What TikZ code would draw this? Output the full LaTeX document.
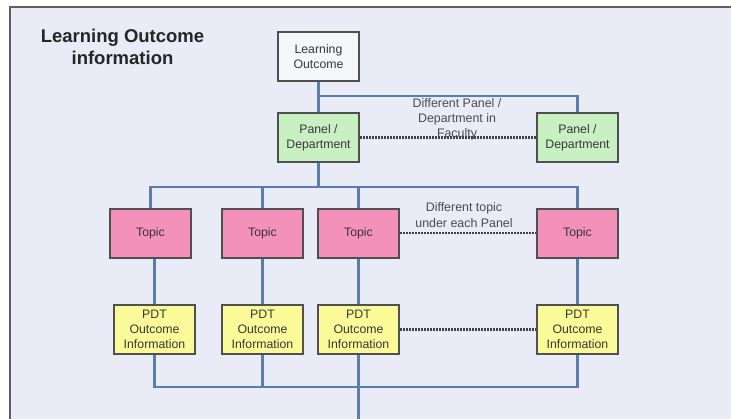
\documentclass[tikz,border=0pt]{standalone}
\usepackage{fontspec}
\setmainfont{Liberation Sans}
\begin{document}
\begin{tikzpicture}[x=1pt,y=-1pt,
  box/.style={draw=boxgray,line width=2pt,minimum width=81pt,minimum height=49pt,
    inner sep=1pt,align=center,font=\fontsize{12.3}{14.8}\selectfont,text=txtgray},
  lobox/.style={box,fill=lofill},
  panelbox/.style={box,fill=greenfill},
  topicbox/.style={box,fill=pinkfill},
  pdtbox/.style={box,fill=yellowfill},
  conn/.style={draw=lineblue,line width=2.1pt},
  dotline/.style={draw=dotgray,line width=2.4pt,dash pattern=on 1.5pt off 1.5pt},
  lbl/.style={align=center,font=\fontsize{12.4}{15.2}\selectfont,text=lblgray,inner sep=0pt},
]
\definecolor{bgcol}{HTML}{E9ECF6}
\definecolor{framegray}{HTML}{606060}
\definecolor{boxgray}{HTML}{505050}
\definecolor{txtgray}{HTML}{383838}
\definecolor{lblgray}{HTML}{4A4A52}
\definecolor{lofill}{HTML}{F5F6FA}
\definecolor{greenfill}{HTML}{C9F0C3}
\definecolor{pinkfill}{HTML}{F391BA}
\definecolor{yellowfill}{HTML}{FAFA98}
\definecolor{lineblue}{HTML}{5A7DAE}
\definecolor{dotgray}{HTML}{404048}
\useasboundingbox (0,0) rectangle (731,418);
\fill[white] (0,0) rectangle (740,430);
\fill[bgcol] (10,7) rectangle (740,430);
\draw[framegray,line width=2.2pt] (10,430) -- (10,7) -- (740,7);

\node[align=center,font=\fontsize{18.5}{22}\bfseries\selectfont,text=black!85,inner sep=0pt] (title) at (122.5,46.5) {Learning Outcome\\information};

\node[lobox] (LO) at (318.5,56.5) {Learning\\Outcome};
\node[panelbox] (P1) at (318.5,137.5) {Panel /\\Department};
\node[panelbox] (P2) at (577.5,137.5) {Panel /\\Department};
\node[topicbox] (T1) at (150.5,233) {Topic};
\node[topicbox] (T2) at (262.5,233) {Topic};
\node[topicbox] (T3) at (358.5,233) {Topic};
\node[topicbox] (T4) at (577.5,233) {Topic};
\node[pdtbox] (D1) at (154.5,329.5) {PDT\\Outcome\\Information};
\node[pdtbox] (D2) at (262.5,329.5) {PDT\\Outcome\\Information};
\node[pdtbox] (D3) at (358.5,329.5) {PDT\\Outcome\\Information};
\node[pdtbox] (D4) at (577.5,329.5) {PDT\\Outcome\\Information};

\coordinate (j1) at (318.5,96);
\coordinate (j2) at (577.5,96);
\coordinate (b1) at (150.5,187);
\coordinate (b4) at (577.5,187);
\coordinate (c1) at (154.5,387);
\coordinate (c4) at (577.5,387);
\coordinate (out) at (358.5,430);

\draw[conn] (LO.south) -- (P1.north);
\draw[conn] (j1) -- (j2) -- (P2.north);
\draw[conn] (P1.south) -- (P1.south |- b1);
\draw[conn] (T1.north) -- (b1) -- (b4) -- (T4.north);
\draw[conn] (T2.north) -- (T2.north |- b1);
\draw[conn] (T3.north) -- (T3.north |- b1);
\draw[conn] (T1.south -| D1.north) -- (D1.north);
\draw[conn] (T2.south) -- (D2.north);
\draw[conn] (T3.south) -- (D3.north);
\draw[conn] (T4.south) -- (D4.north);
\draw[conn] (D1.south) -- (c1) -- (c4) -- (D4.south);
\draw[conn] (D2.south) -- (D2.south |- c1);
\draw[conn] (D3.south) -- (out);

\node[lbl] (l1) at (457,119) {Different Panel /\\Department in\\Faculty};
\node[lbl] (l2) at (464,215) {Different topic\\under each Panel};

\draw[dotline] (P1.east) -- (P2.west);
\draw[dotline] (T3.east) -- (T4.west);
\draw[dotline] (D3.east) -- (D4.west);
\end{tikzpicture}
\end{document}
